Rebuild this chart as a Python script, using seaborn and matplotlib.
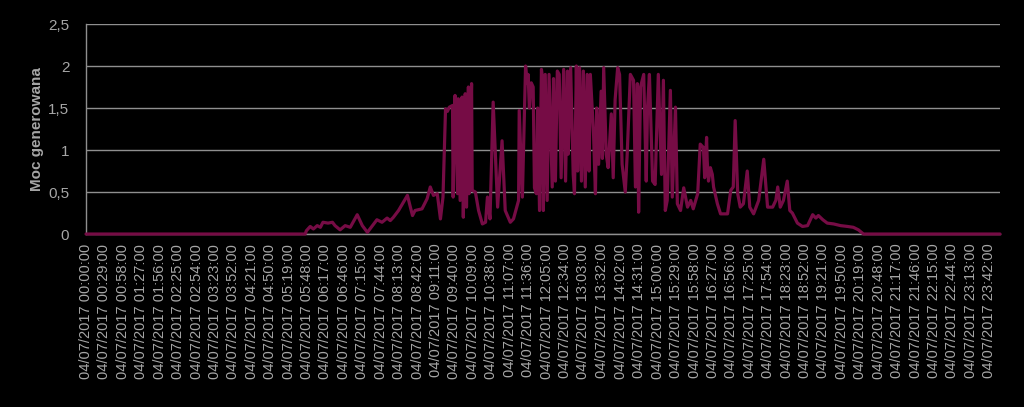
import matplotlib
matplotlib.use("Agg")
import matplotlib.pyplot as plt
import seaborn as sns
import pandas as pd

# ─── data: 04/07/2017, minutes after midnight and power ───
minutes = [0, 345, 347, 353, 358, 364, 369, 373, 381, 388, 392, 400, 408, 416,
           427, 435, 443, 451, 458, 466, 474, 479, 484, 492, 506, 514, 518, 529,
           537, 542, 547, 553, 558, 562, 566, 569, 572, 577, 578, 580, 581, 585,
           586, 589, 592, 594, 597, 599, 602, 603, 607, 608, 613, 618, 624, 629,
           632, 636, 641, 648, 655, 660, 668, 673, 681, 682, 687, 692, 695, 696,
           698, 701, 704, 706, 709, 711, 714, 717, 718, 720, 723, 726, 729, 734,
           736, 739, 742, 745, 748, 752, 755, 758, 759, 763, 767, 769, 772, 774,
           777, 780, 783, 786, 789, 792, 794, 799, 802, 804, 807, 811, 813, 815,
           819, 822, 827, 830, 833, 837, 840, 844, 849, 852, 857, 862, 865, 868,
           870, 873, 878, 882, 884, 887, 892, 896, 901, 906, 909, 912, 915, 920,
           923, 928, 931, 936, 941, 947, 952, 956, 963, 967, 972, 974, 977, 978,
           980, 983, 986, 988, 994, 999, 1010, 1015, 1019, 1022, 1026, 1030, 1035,
           1041, 1045, 1051, 1059, 1067, 1073, 1081, 1086, 1089, 1093, 1098, 1104,
           1108, 1112, 1120, 1128, 1136, 1144, 1149, 1153, 1160, 1167, 1177, 1188,
           1199, 1208, 1216, 1224, 1439]

power = [0, 0, 0.04, 0.09, 0.06, 0.10, 0.08, 0.14, 0.13, 0.14, 0.10, 0.05, 0.10, 0.08,
         0.23, 0.10, 0.02, 0.10, 0.17, 0.14, 0.19, 0.16, 0.20, 0.28, 0.46, 0.22, 0.28, 0.30,
         0.42, 0.56, 0.46, 0.48, 0.18, 0.44, 1.49, 1.46, 1.51, 1.53, 0.44, 1.53, 1.65, 0.48,
         1.61, 0.40, 1.63, 0.20, 1.67, 0.32, 1.75, 0.48, 1.79, 0.52, 0.50, 0.28, 0.12, 0.14,
         0.44, 0.18, 1.57, 0.32, 1.11, 0.28, 0.14, 0.18, 0.40, 1.47, 0.44, 2.00, 1.79, 1.90,
         1.50, 1.80, 1.75, 0.55, 0.48, 1.50, 0.28, 1.96, 1.90, 0.28, 1.90, 0.40, 1.90, 0.56,
         1.85, 0.63, 1.94, 1.90, 0.67, 1.96, 0.63, 1.94, 0.95, 1.98, 0.71, 0.48, 2.00, 0.75,
         1.98, 0.63, 1.94, 0.56, 1.90, 0.75, 1.90, 1.20, 0.48, 1.50, 0.83, 1.70, 0.90, 1.98,
         0.95, 0.79, 1.43, 0.67, 1.60, 1.98, 1.90, 0.83, 0.50, 0.95, 1.90, 1.83, 0.56, 1.79,
         0.26, 1.75, 1.90, 0.63, 1.50, 1.90, 0.63, 0.59, 1.90, 0.71, 1.83, 0.28, 0.40, 1.71,
         0.44, 1.51, 0.36, 0.28, 0.55, 0.32, 0.40, 0.30, 0.48, 1.07, 1.03, 0.67, 1.15, 0.87,
         0.63, 0.79, 0.71, 0.56, 0.36, 0.24, 0.24, 0.52, 0.56, 1.35, 0.48, 0.32, 0.36,
         0.75, 0.32, 0.24, 0.40, 0.89, 0.32, 0.32, 0.40, 0.56, 0.32, 0.40, 0.63,
         0.28, 0.25, 0.13, 0.09, 0.10, 0.23, 0.19, 0.22, 0.17, 0.13, 0.12, 0.10,
         0.09, 0.08, 0.05, 0.0, 0]

tick_times = ["00:00", "00:29", "00:58", "01:27", "01:56", "02:25", "02:54", "03:23",
              "03:52", "04:21", "04:50", "05:19", "05:48", "06:17", "06:46", "07:15",
              "07:44", "08:13", "08:42", "09:11", "09:40", "10:09", "10:38", "11:07",
              "11:36", "12:05", "12:34", "13:03", "13:32", "14:02", "14:31", "15:00",
              "15:29", "15:58", "16:27", "16:56", "17:25", "17:54", "18:23", "18:52",
              "19:21", "19:50", "20:19", "20:48", "21:17", "21:46", "22:15", "22:44",
              "23:13", "23:42"]
y_ticks = [0, 0.5, 1, 1.5, 2, 2.5]

df = pd.DataFrame({"minute": minutes, "power": power})

LINE = "#760C45"
GRID = "#8f8f8f"
TEXT = "#a6a6a6"

sns.set_theme(style="dark")
plt.rcParams["font.family"] = ["Liberation Sans", "DejaVu Sans"]

fig = plt.figure(figsize=(10.24, 4.07), dpi=100, facecolor="black")
ax = fig.add_axes([0.084, 0.425, 0.8926, 0.516])
ax.set_facecolor("black")

sns.lineplot(data=df, x="minute", y="power", ax=ax, color=LINE,
             linewidth=2.3, estimator=None, clip_on=False, zorder=3)

ax.set_xlim(0, 1439)
ax.set_ylim(0, 2.5)
ax.set_yticks(y_ticks)
ax.set_yticklabels([f"{v:g}".replace(".", ",") for v in y_ticks])
tick_pos = [int(t[:2]) * 60 + int(t[3:]) for t in tick_times]
ax.set_xticks(tick_pos)
ax.set_xticklabels([f"04/07/2017 {t}:00" for t in tick_times], rotation=90)

ax.yaxis.grid(True, color=GRID, linewidth=1)
ax.xaxis.grid(False)
for side in ["top", "right"]:
    ax.spines[side].set_visible(False)
for side in ["left", "bottom"]:
    ax.spines[side].set_visible(True)
    ax.spines[side].set_color(GRID)
    ax.spines[side].set_linewidth(1)

ax.tick_params(axis="x", colors=TEXT, labelsize=10.5, length=0, pad=7)
ax.tick_params(axis="y", colors=TEXT, labelsize=11, length=0, pad=12)
ax.set_xlabel("")
ax.set_ylabel("Moc generowana", color=TEXT, fontsize=11, fontweight="bold", labelpad=3)

fig.savefig("out.png", dpi=100, facecolor="black")
